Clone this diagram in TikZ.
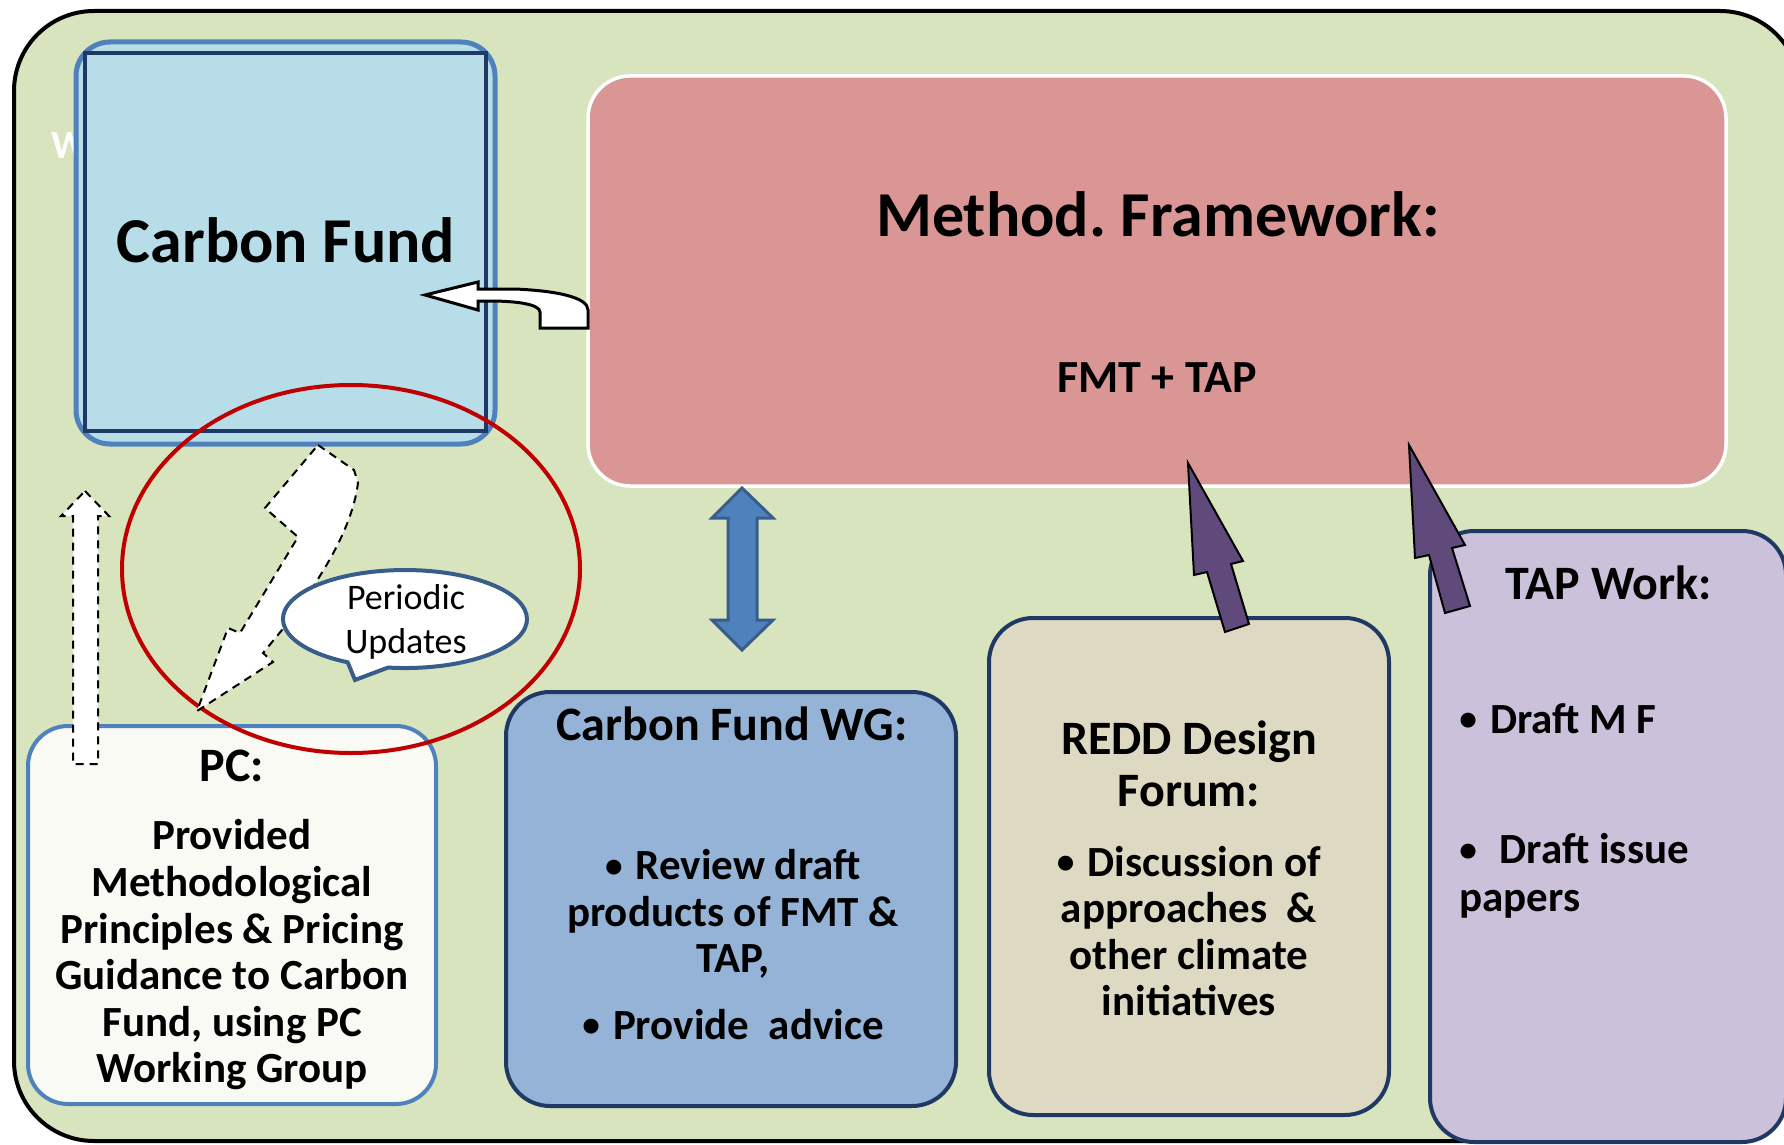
\documentclass[tikz,border=0pt]{standalone}
\usepackage{graphicx}
\usepackage{fontspec}
\setmainfont{Carlito}
\frenchspacing
\usetikzlibrary{fit}
\definecolor{bggreen}{HTML}{D7E4BD}
\definecolor{cfblue}{HTML}{B7DDE8}
\definecolor{midblue}{HTML}{4F81BD}
\definecolor{navy}{HTML}{1F3864}
\definecolor{rose}{HTML}{DA9694}
\definecolor{pcwhite}{HTML}{F8FAF3}
\definecolor{wgblue}{HTML}{95B3D7}
\definecolor{tanbox}{HTML}{DDD9C3}
\definecolor{lilac}{HTML}{CCC1DA}
\definecolor{purp}{HTML}{604A7B}
\definecolor{darkblue}{HTML}{385D8A}
\definecolor{redline}{HTML}{C00000}
\newcommand{\bul}{\raisebox{0.12ex}{\scalebox{0.82}{•}}\hspace{0.08em}}
\begin{document}
\begin{tikzpicture}[x=0.5pt,y=-0.5pt,
  boxnode/.style={inner sep=0pt, outer sep=0pt},
  hdr/.style={font=\bfseries\fontsize{24}{26}\selectfont, align=center, inner sep=0pt},
  body/.style={font=\bfseries\fontsize{21.5}{23.3}\selectfont, align=center, inner sep=0pt},
  bodyl/.style={font=\bfseries\fontsize{21.5}{24}\selectfont, align=left, inner sep=0pt},
  bigtxt/.style={font=\bfseries\fontsize{32}{36}\selectfont, inner sep=0pt},
  purplearrow/.style={draw=black, line width=1pt, fill=purp, line join=miter},
  dashedshape/.style={draw=black, line width=1pt, fill=white, dash pattern=on 4pt off 3pt}
]
\useasboundingbox (0,0) rectangle (1784,1145);
\clip (0,0) rectangle (1784,1145);
% outer frame
\node[fit={(14,11) (1800,1141)}, boxnode, draw=black, line width=2pt, fill=bggreen, rounded corners=40pt] (frame) {};
\node[white, font=\bfseries\fontsize{20}{22}\selectfont, anchor=base west, inner sep=0pt] (wlabel) at (51,159) {W};
% Carbon Fund
\node[fit={(76,42) (495,444)}, boxnode, draw=midblue, line width=2.5pt, fill=cfblue, rounded corners=17pt] (cfouter) {};
\node[fit={(85,53) (486,431)}, boxnode, draw=navy, line width=2pt] (cfinner) {};
\node[bigtxt, anchor=base] (cftext) at (286,262) {Carbon Fund};
% Method framework
\node[fit={(588,76) (1726,486)}, boxnode, draw=white, line width=1.75pt, fill=rose, rounded corners=21pt] (mf) {};
\node[bigtxt, anchor=base] (mftext) at (1158,236) {Method. Framework:};
\node[font=\bfseries\fontsize{23}{26}\selectfont, inner sep=0pt, anchor=base] (fmt) at (1157,392) {FMT + TAP};
% curved white arrow
\draw[draw=black, line width=1.5pt, fill=white, line join=miter] (425,295) -- (478,282) -- (478,289) -- (515,289) .. controls (560,291) and (588,298) .. (588,310) -- (588,328) -- (540,328) -- (540,312) .. controls (540,304) and (515,301) .. (490,301) -- (478,301) -- (478,310) -- cycle;
% lower boxes
\node[fit={(28,726) (436,1104)}, boxnode, draw=midblue, line width=2pt, fill=pcwhite, rounded corners=20pt] (pc) {};
\node[fit={(506,692) (956,1106)}, boxnode, draw=navy, line width=2pt, fill=wgblue, rounded corners=22pt] (wg) {};
\node[fit={(989,618) (1389,1115)}, boxnode, draw=navy, line width=2pt, fill=tanbox, rounded corners=22pt] (redd) {};
\node[fit={(1430,531) (1786,1142)}, boxnode, draw=navy, line width=2pt, fill=lilac, rounded corners=22pt] (tap) {};
% texts
\node[hdr, anchor=base] (pchdr) at (232,781) {PC:};
\node[body] (pcbody) at (232,955) {Provided\\Methodological\\Principles \& Pricing\\Guidance to Carbon\\Fund, using PC\\Working Group};
\node[hdr, anchor=base] (wghdr) at (732,740) {Carbon Fund WG:};
\node[body] (wgb1) at (733,914) {\bul{} Review draft\\products of FMT \&\\TAP,};
\node[body, anchor=base] (wgb2) at (733,1039) {\bul{} Provide\ \ advice};
\node[hdr] (reddhdr) at (1189,764) {REDD Design\\Forum:};
\node[body] (reddbody) at (1189,931) {\bul{} Discussion of\\approaches\ \ \&\\other climate\\initiatives};
\node[hdr, anchor=base] (taphdr) at (1609,599) {TAP Work:};
\node[bodyl, anchor=base west] (tapb1) at (1459,733) {\bul{} Draft M F};
\node[bodyl, anchor=west] (tapb2) at (1459,876) {\bul\ \ Draft issue\\papers};
% purple arrows
\draw[purplearrow] (1188,463) -- (1243,561) -- (1231,564) -- (1249,624) -- (1225,632) -- (1207,572) -- (1194,575) -- cycle;
\draw[purplearrow] (1409,445) -- (1465,545) -- (1452,548) -- (1470,606) -- (1445,613) -- (1429,555) -- (1415,558) -- cycle;
% blue double arrow
\draw[draw=darkblue, line width=1.5pt, fill=midblue, line join=miter] (742,488) -- (773,518) -- (757,518) -- (757,620) -- (773,620) -- (742,650) -- (712,620) -- (728,620) -- (728,518) -- (712,518) -- cycle;
% red ellipse
\draw[redline, line width=2pt] (351,569) ellipse [x radius=229, y radius=184];
% lightning arrow
\draw[dashedshape, line join=miter] (318,445) -- (354,470) -- (358,483) .. controls (352,530) and (320,580) .. (282,630) -- (263,653) -- (273,662) -- (197,711) -- (228,628) -- (240,633) -- (298,537) -- (265,508) -- cycle;
% callout
\draw[draw=darkblue, line width=2pt, fill=white, line join=miter] (347.7,662.3) arc[start angle=118, end angle=458, x radius=122, y radius=49] -- (355,680) -- cycle;
\node[font=\fontsize{18}{22}\selectfont, align=center, inner sep=0pt] (pu) at (406,622) {Periodic\\Updates};
% dashed up arrow
\draw[dashedshape, line join=miter] (85,491) -- (109,516) -- (98,516) -- (98,764) -- (73,764) -- (73,516) -- (61,516) -- cycle;
\end{tikzpicture}
\end{document}
